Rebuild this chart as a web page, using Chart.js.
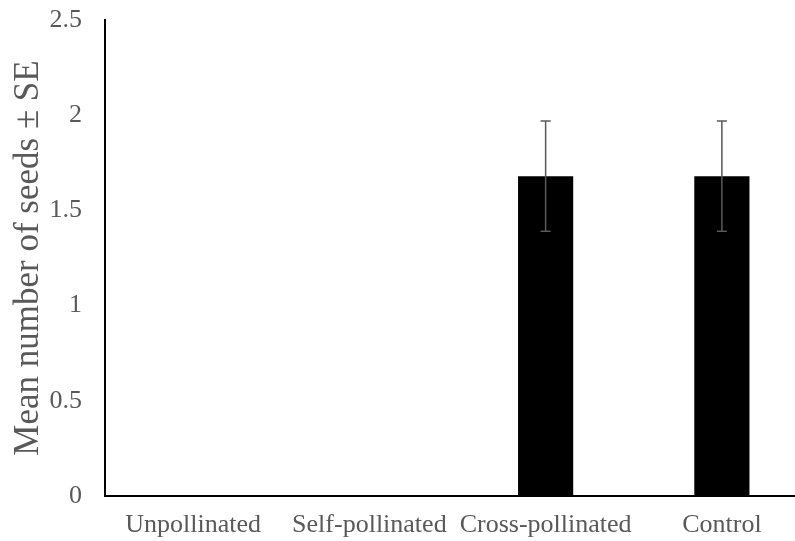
<!DOCTYPE html>
<html>
<head>
<meta charset="utf-8">
<script src="https://cdn.jsdelivr.net/npm/chart.js@4"></script>
<style>
html,body{margin:0;padding:0;background:#fff;overflow:hidden;}
#wrap{width:810px;height:541px;position:relative;}
</style>
</head>
<body>
<div id="wrap"><canvas id="c"></canvas></div>
<script>
const categories = ["Unpollinated", "Self-pollinated", "Cross-pollinated", "Control"];
const meanSeeds = [0, 0, 1.68, 1.68];
const seValues = [0, 0, 0.29, 0.29];
const yTicks = [0, 0.5, 1, 1.5, 2, 2.5];

const errorBars = {
  id: 'errorBars',
  afterDatasetsDraw(chart) {
    const ctx = chart.ctx;
    const meta = chart.getDatasetMeta(0);
    const y = chart.scales.y;
    ctx.save();
    ctx.strokeStyle = '#595959';
    ctx.lineWidth = 1.5;
    meta.data.forEach((bar, i) => {
      const se = seValues[i];
      if (!se) return;
      const x = bar.x;
      const yTop = y.getPixelForValue(meanSeeds[i] + se);
      const yBot = y.getPixelForValue(meanSeeds[i] - se);
      ctx.beginPath();
      ctx.moveTo(x, yTop); ctx.lineTo(x, yBot);
      ctx.moveTo(x - 5, yTop); ctx.lineTo(x + 5, yTop);
      ctx.moveTo(x - 5, yBot); ctx.lineTo(x + 5, yBot);
      ctx.stroke();
    });
    ctx.restore();
  }
};

new Chart(document.getElementById('c'), {
  type: 'bar',
  data: {
    labels: categories,
    datasets: [{
      data: meanSeeds,
      backgroundColor: '#000000',
      borderWidth: 0,
      categoryPercentage: 1,
      barPercentage: 0.313
    }]
  },
  options: {
    responsive: true,
    maintainAspectRatio: false,
    animation: false,
    layout: { padding: { top: 20, right: 0, bottom: 0, left: 0 } },
    plugins: { legend: { display: false }, tooltip: { enabled: false } },
    scales: {
      x: {
        grid: { display: false, drawTicks: false },
        border: { display: true, color: '#000000', width: 2 },
        ticks: {
          color: '#595959',
          font: { family: 'Liberation Serif', size: 26 },
          padding: 14,
          maxRotation: 0,
          autoSkip: false
        },
        afterFit(scale) { scale.height = 45; scale.paddingLeft = 0; scale.paddingRight = 0; }
      },
      y: {
        min: 0,
        max: 2.5,
        afterBuildTicks(scale) { scale.ticks = yTicks.map(v => ({ value: v })); },
        grid: { display: false, drawTicks: false },
        border: { display: true, color: '#000000', width: 2 },
        ticks: {
          color: '#595959',
          font: { family: 'Liberation Serif', size: 26 },
          padding: 23,
          callback: v => String(v)
        },
        title: {
          display: true,
          text: 'Mean number of seeds ± SE',
          color: '#595959',
          font: { family: 'Liberation Serif', size: 35, weight: 'normal' },
          padding: { top: 8, bottom: 0 }
        },
        afterFit(scale) { scale.width = 105; scale.paddingTop = 0; scale.paddingBottom = 0; }
      }
    }
  },
  plugins: [errorBars]
});
</script>
</body>
</html>
